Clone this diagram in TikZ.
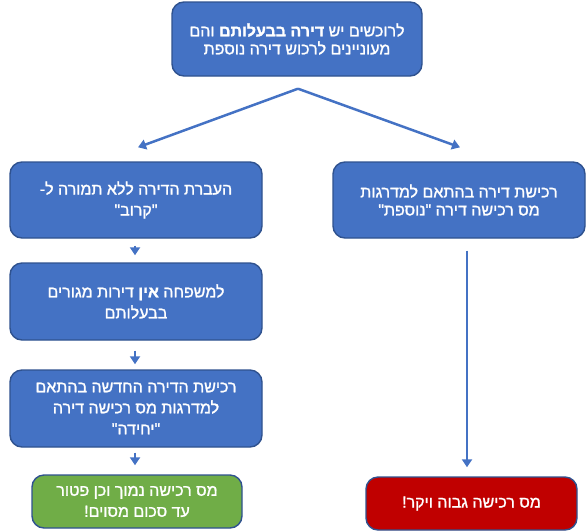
\documentclass[tikz,border=0pt]{standalone}
\usepackage{fontspec}
\newfontfamily\hebfont[Script=Hebrew,FakeBold=1.4]{Liberation Sans}
\TeXXeTstate=1
\usetikzlibrary{arrows.meta}

\definecolor{boxblue}{HTML}{4472C4}
\definecolor{boxedge}{HTML}{2F528F}
\definecolor{boxgreen}{HTML}{70AD47}
\definecolor{boxred}{HTML}{C00000}

\newcommand{\heb}[1]{\beginR #1\endR}

\tikzset{
    stage/.style={draw=boxedge, line width=1.4pt, fill=boxblue, rounded corners=12pt,
        text=white, align=center, inner sep=2pt,
        font=\hebfont\fontsize{16}{21}\selectfont},
    tight/.style={font=\hebfont\fontsize{16}{18}\selectfont},
    flow/.style={draw=boxblue, line width=2.5pt, -{Triangle[width=10pt,length=8pt]}}
}

\begin{document}
\begin{tikzpicture}[x=1pt,y=-1pt]
    \useasboundingbox (0,0) rectangle (586,531);

    % Top question box
    \node[stage, tight, minimum width=250pt, minimum height=74pt] (top) at (297,39)
        {\heb{לרוכשים יש \textbf{דירה בבעלותם} והם}\\\heb{מעוניינים לרכוש דירה נוספת}};

    % Left branch
    \node[stage, minimum width=252pt, minimum height=76pt] (gift) at (136,200)
        {\heb{העברת הדירה ללא תמורה ל-}\\\heb{"קרוב"}};
    \node[stage, minimum width=252pt, minimum height=77pt] (noflat) at (136,301.5)
        {\heb{למשפחה \textbf{אין} דירות מגורים}\\\heb{בבעלותם}};
    \node[stage, minimum width=252pt, minimum height=77pt] (single) at (136,408.5)
        {\heb{רכישת הדירה החדשה בהתאם}\\\heb{למדרגות מס רכישה דירה}\\\heb{"יחידה"}};
    \node[stage, fill=boxgreen, minimum width=210pt, minimum height=53pt] (low) at (137,501.5)
        {\heb{מס רכישה נמוך וכן פטור}\\\heb{עד סכום מסוים!}};

    % Right branch
    \node[stage, tight, minimum width=252pt, minimum height=76pt] (extra) at (459,200)
        {\heb{רכישת דירה בהתאם למדרגות}\\\heb{מס רכישה דירה "נוספת"}};
    \node[stage, fill=boxred, minimum width=211pt, minimum height=53pt] (high) at (471.5,503.5)
        {\heb{מס רכישה גבוה ויקר!}};

    % Split point under the top box
    \coordinate (split) at ([xshift=1pt,yshift=-12pt]top.south);
    \draw[flow] (split) -- ([xshift=2pt,yshift=14pt]gift.north);
    \draw[flow] (split) -- ([xshift=1pt,yshift=14pt]extra.north);

    % Short arrows down the left branch
    \draw[flow] ([xshift=-1pt,yshift=-7pt]gift.south) -- ([xshift=-1pt,yshift=7pt]noflat.north);
    \draw[flow] ([xshift=-1pt,yshift=-10pt]noflat.south) -- ([xshift=-1pt,yshift=5pt]single.north);
    \draw[flow] ([xshift=-1pt,yshift=-5pt]single.south) -- ([xshift=-2pt,yshift=9pt]low.north);

    % Long arrow down the right branch
    \draw[flow] ([xshift=8pt,yshift=-12pt]extra.south) -- ([xshift=-4.5pt,yshift=9pt]high.north);
\end{tikzpicture}
\end{document}
